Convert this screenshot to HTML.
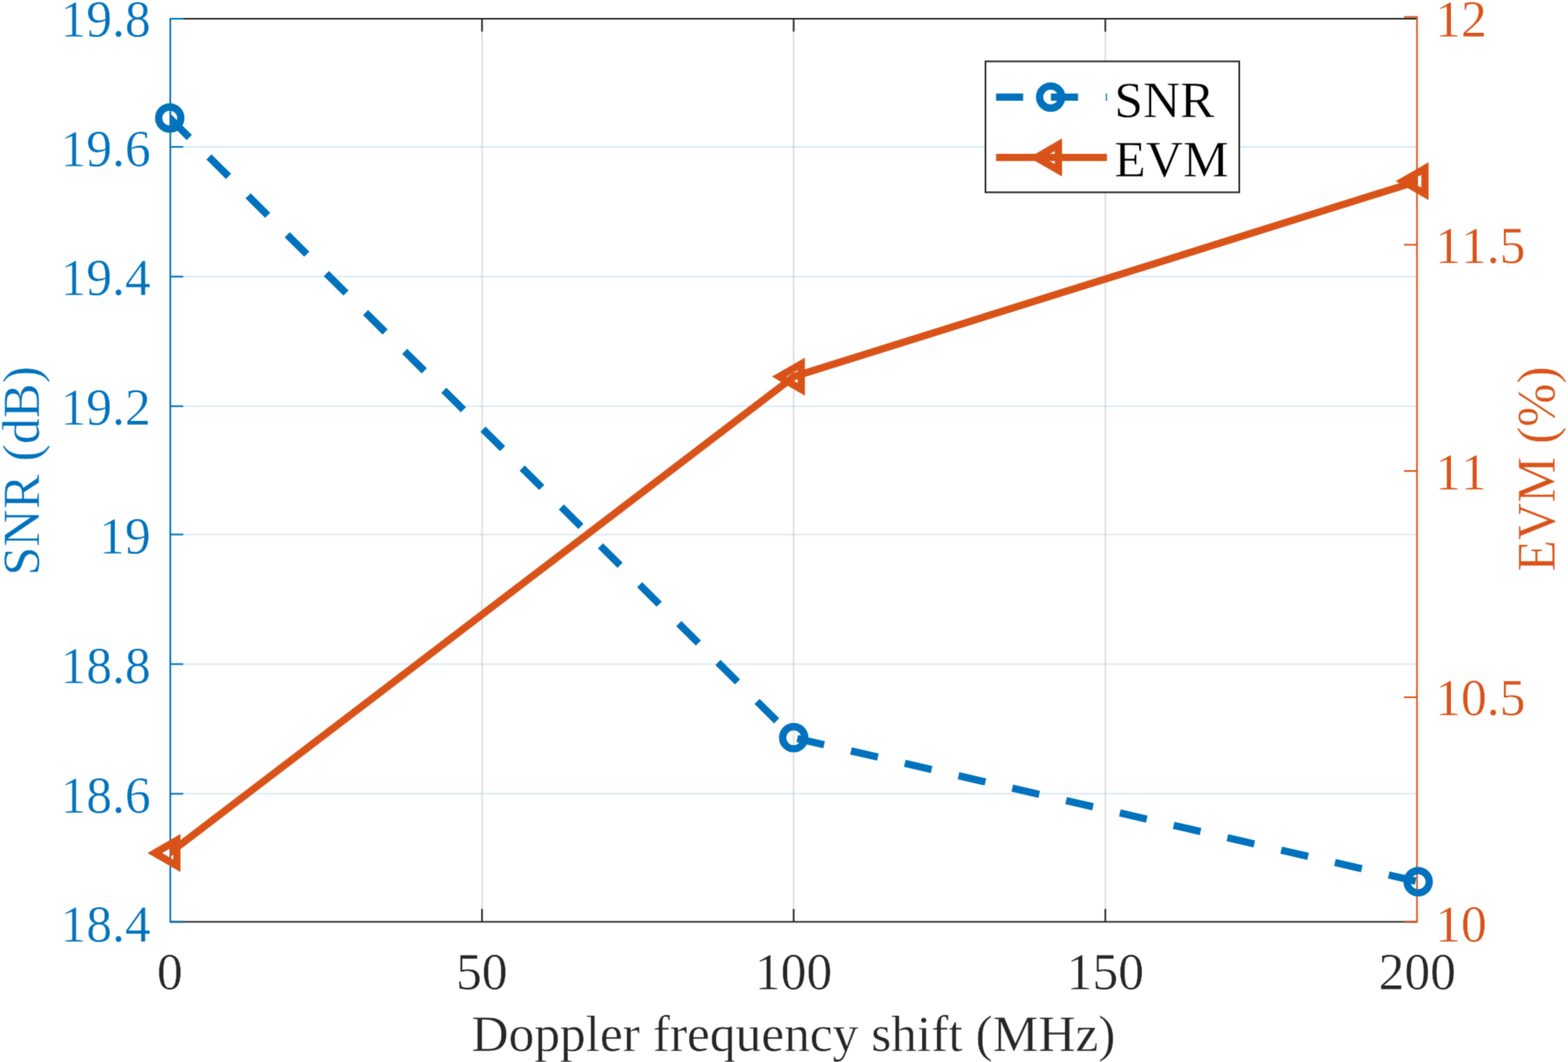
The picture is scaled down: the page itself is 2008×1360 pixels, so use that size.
<!DOCTYPE html>
<html lang="en">
<head>
<meta charset="utf-8">
<title>SNR and EVM versus Doppler frequency shift</title>
<style>
html,body{margin:0;padding:0;background:#fff;}
body{width:2008px;height:1360px;overflow:hidden;}
svg{display:block;}
text{font-family:"Liberation Serif","Times New Roman",serif;font-size:66.00px;font-kerning:none;font-variant-ligatures:none;stroke:#fff;stroke-width:0.45px;stroke-linejoin:round;paint-order:fill stroke;}
</style>
</head>
<body>
<svg width="2008" height="1360" viewBox="0 0 2008 1360">
<defs><clipPath id="ax"><rect x="217.40" y="24.00" width="1598.40" height="1156.50"/></clipPath></defs>
<defs><filter id="soft" x="-4" y="-4" width="2016" height="1368" filterUnits="userSpaceOnUse" color-interpolation-filters="sRGB"><feConvolveMatrix order="3" kernelMatrix="0.01917 0.10012 0.01917 0.10012 0.52283 0.10012 0.01917 0.10012 0.01917" edgeMode="duplicate" preserveAlpha="true"/></filter></defs>
<g filter="url(#soft)">
<rect x="-4" y="-4" width="2016" height="1368" fill="#fff"/>
<g stroke="#262626" stroke-opacity="0.15" stroke-width="2.10" fill="none">
<line x1="617.27" y1="24.00" x2="617.27" y2="1180.50"/>
<line x1="1016.38" y1="24.00" x2="1016.38" y2="1180.50"/>
<line x1="1415.49" y1="24.00" x2="1415.49" y2="1180.50"/>
</g>
<g stroke="#0072BD" stroke-opacity="0.15" stroke-width="2.10" fill="none">
<line x1="218.10" y1="1016.50" x2="1814.60" y2="1016.50"/>
<line x1="218.10" y1="850.44" x2="1814.60" y2="850.44"/>
<line x1="218.10" y1="684.45" x2="1814.60" y2="684.45"/>
<line x1="218.10" y1="520.20" x2="1814.60" y2="520.20"/>
<line x1="218.10" y1="354.20" x2="1814.60" y2="354.20"/>
<line x1="218.10" y1="188.10" x2="1814.60" y2="188.10"/>
</g>
<g stroke="#262626" stroke-width="2.10" fill="none">
<line x1="218.10" y1="1180.50" x2="1814.60" y2="1180.50"/>
<line x1="218.10" y1="24.00" x2="1814.60" y2="24.00"/>
<line x1="617.27" y1="1180.50" x2="617.27" y2="1164.00"/>
<line x1="617.27" y1="24.00" x2="617.27" y2="40.50"/>
<line x1="1016.38" y1="1180.50" x2="1016.38" y2="1164.00"/>
<line x1="1016.38" y1="24.00" x2="1016.38" y2="40.50"/>
<line x1="1415.49" y1="1180.50" x2="1415.49" y2="1164.00"/>
<line x1="1415.49" y1="24.00" x2="1415.49" y2="40.50"/>
</g>
<g stroke="#0072BD" stroke-width="2.10" fill="none">
<line x1="218.10" y1="22.95" x2="218.10" y2="1181.55"/>
<line x1="218.10" y1="1180.50" x2="234.60" y2="1180.50"/>
<line x1="218.10" y1="1016.50" x2="234.60" y2="1016.50"/>
<line x1="218.10" y1="850.44" x2="234.60" y2="850.44"/>
<line x1="218.10" y1="684.45" x2="234.60" y2="684.45"/>
<line x1="218.10" y1="520.20" x2="234.60" y2="520.20"/>
<line x1="218.10" y1="354.20" x2="234.60" y2="354.20"/>
<line x1="218.10" y1="188.10" x2="234.60" y2="188.10"/>
<line x1="218.10" y1="24.00" x2="234.60" y2="24.00"/>
</g>
<g stroke="#D95319" stroke-width="2.10" fill="none">
<line x1="1814.60" y1="20.65" x2="1814.60" y2="1181.55"/>
<line x1="1814.60" y1="1180.50" x2="1798.10" y2="1180.50"/>
<line x1="1814.60" y1="892.90" x2="1798.10" y2="892.90"/>
<line x1="1814.60" y1="603.20" x2="1798.10" y2="603.20"/>
<line x1="1814.60" y1="313.44" x2="1798.10" y2="313.44"/>
<line x1="1814.60" y1="21.70" x2="1798.10" y2="21.70"/>
</g>
<g fill="#0072BD" text-anchor="end">
<text transform="translate(193.00 1206.14) scale(1 1.025)">18.4</text>
<text transform="translate(193.00 1040.57) scale(1 1.025)">18.6</text>
<text transform="translate(193.00 875.00) scale(1 1.025)">18.8</text>
<text transform="translate(193.00 709.43) scale(1 1.025)">19</text>
<text transform="translate(193.00 543.86) scale(1 1.025)">19.2</text>
<text transform="translate(193.00 378.29) scale(1 1.025)">19.4</text>
<text transform="translate(193.00 212.72) scale(1 1.025)">19.6</text>
<text transform="translate(193.00 47.15) scale(1 1.025)">19.8</text>
</g>
<g fill="#D95319" text-anchor="start">
<text transform="translate(1838.00 1205.95) scale(1 1.025)">10</text>
<text transform="translate(1838.00 916.25) scale(1 1.025)">10.5</text>
<text transform="translate(1838.00 626.55) scale(1 1.025)">11</text>
<text transform="translate(1838.00 336.85) scale(1 1.025)">11.5</text>
<text transform="translate(1838.00 47.15) scale(1 1.025)">12</text>
</g>
<g fill="#262626" text-anchor="middle">
<text transform="translate(217.50 1266.50) scale(1 1.025)">0</text>
<text transform="translate(617.00 1266.50) scale(1 1.025)">50</text>
<text transform="translate(1016.20 1266.50) scale(1 1.025)">100</text>
<text transform="translate(1415.60 1266.50) scale(1 1.025)">150</text>
<text transform="translate(1815.00 1266.50) scale(1 1.025)">200</text>
<text x="1016.10" y="1345.80" style="font-size:65.88px">Doppler frequency shift (MHz)</text>
</g>
<text transform="translate(49.70 603.00) rotate(-90) scale(1 1.03)" text-anchor="middle" fill="#0072BD" style="font-size:66.67px">SNR (dB)</text>
<text transform="translate(1990.70 600.70) rotate(-90) scale(1 1.04)" text-anchor="middle" fill="#D95319" style="font-size:66.2px">EVM (%)</text>
<g clip-path="url(#ax)" fill="none" stroke-width="9.30" stroke-linejoin="miter">
<line x1="214.10" y1="147.92" x2="217.70" y2="151.50" stroke="#0072BD"/>
<polyline points="217.40,151.20 1016.40,944.70 1816.10,1129.15" stroke="#0072BD" stroke-dasharray="35.35 35.32"/>
<polyline points="217.10,1092.40 1016.70,482.30 1815.40,232.00" stroke="#D95319" stroke-linecap="square"/>
</g>
<g fill="none" stroke="#0072BD" stroke-width="9.30">
<circle cx="217.40" cy="151.20" r="14.20"/>
<circle cx="1016.40" cy="944.70" r="14.20"/>
<circle cx="1816.10" cy="1129.15" r="14.20"/>
</g>
<g fill="none" stroke="#D95319" stroke-width="9.30" stroke-linejoin="miter" stroke-miterlimit="10">
<polygon points="198.28,1092.40 226.51,1076.10 226.51,1108.70"/>
<polygon points="997.88,482.30 1026.11,466.00 1026.11,498.60"/>
<polygon points="1796.58,232.00 1824.81,215.70 1824.81,248.30"/>
</g>
<rect x="1262.00" y="78.60" width="325.00" height="167.70" fill="#fff" stroke="#262626" stroke-width="2.10"/>
<line x1="1275.6" y1="124.3" x2="1417.6" y2="124.3" stroke="#0072BD" stroke-width="9.30" stroke-dasharray="34.7 35.55"/>
<g fill="none" stroke="#0072BD" stroke-width="9.30"><circle cx="1345.50" cy="124.30" r="14.20"/></g>
<line x1="1275.6" y1="201.7" x2="1417.6" y2="201.7" stroke="#D95319" stroke-width="9.30"/>
<g fill="none" stroke="#D95319" stroke-width="9.30" stroke-linejoin="miter" stroke-miterlimit="10"><polygon points="1327.18,201.70 1355.41,185.40 1355.41,218.00"/></g>
<g fill="#000">
<text x="1427.0" y="150.0">SNR</text>
<text x="1427.0" y="225.9">EVM</text>
</g>
</g>
</svg>
</body>
</html>
